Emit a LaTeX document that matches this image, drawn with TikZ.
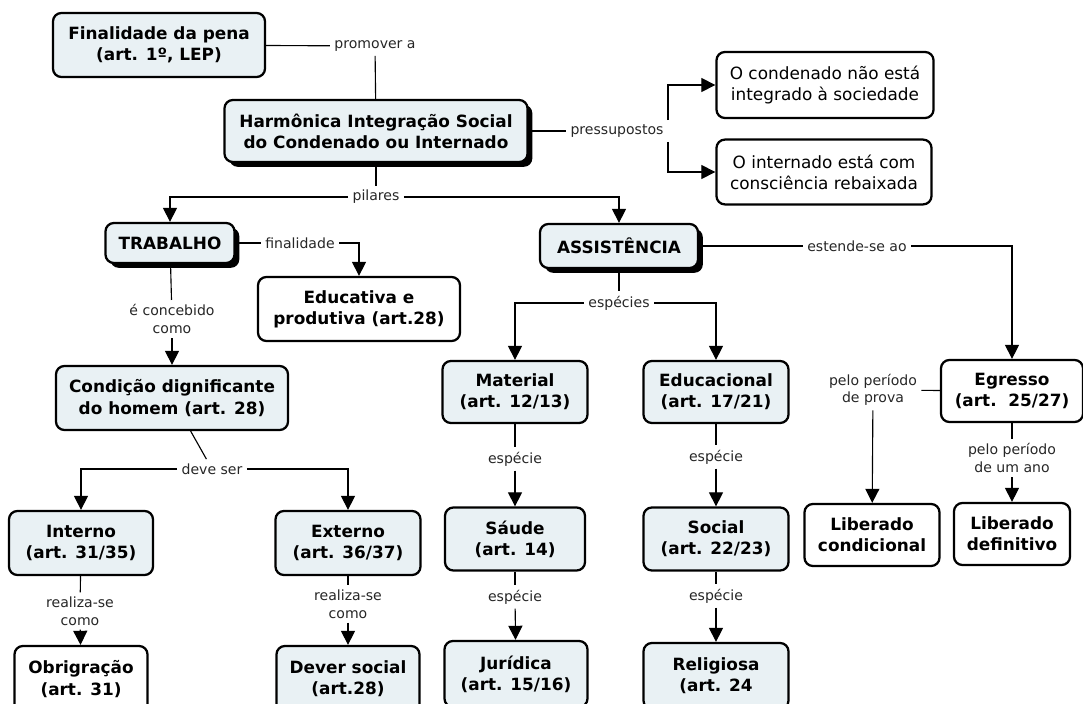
\documentclass[tikz,border=0pt]{standalone}
\usepackage{fontspec}
\setmainfont{DejaVu Sans}
\usepackage{tikz}
\usetikzlibrary{arrows.meta,positioning,shadows}
\definecolor{mapfill}{HTML}{E9F1F4}
\tikzset{
    mapconcept/.style={draw, line width=1.6pt, rounded corners=6pt, fill=mapfill, align=center, font=\fontsize{12}{15}\selectfont\bfseries, minimum height=1.55cm, inner sep=2pt},
    mapplain/.style={mapconcept, fill=white},
    mapshadow/.style={mapconcept, drop shadow={shadow xshift=0.12cm, shadow yshift=-0.12cm, fill=black, opacity=1}},
    mapnote/.style={align=center, font=\fontsize{10}{12.5}\selectfont, text=black!85, inner sep=3pt},
    maplink/.style={line width=0.8pt, black},
    maparrow/.style={maplink, -{Triangle[length=10pt, width=10pt]}}
}
\begin{document}
\begin{tikzpicture}[x=0.025cm, y=-0.025cm]
        \useasboundingbox (0,0) rectangle (1083,703);
        \node[mapconcept, minimum width=5.3cm, minimum height=1.6cm] (fin) at (159,45) {Finalidade da pena\\(art. 1º, LEP)};
        \node[mapshadow, minimum width=7.575cm] (harm) at (376,131) {Harmônica Integração Social\\do Condenado ou Internado};
        \node[mapplain, font=\fontsize{12}{15}\selectfont, minimum width=5.425cm, minimum height=1.65cm] (cond) at (825,85) {O condenado não está\\integrado à sociedade};
        \node[mapplain, font=\fontsize{12}{15}\selectfont, minimum width=5.375cm, minimum height=1.62cm] (intern) at (824,172) {O internado está com\\consciência rebaixada};
        \node[mapshadow, minimum width=3.225cm, minimum height=1.0cm] (trab) at (170,243) {TRABALHO};
        \node[mapshadow, minimum width=3.95cm, minimum height=1.1cm] (assist) at (619,246) {ASSISTÊNCIA};
        \node[mapplain, minimum width=5.05cm, minimum height=1.6cm] (educ) at (359,309) {Educativa e\\produtiva (art.28)};
        \node[mapconcept, minimum width=5.8cm, minimum height=1.6cm] (condig) at (172,398) {Condição dignificante\\do homem (art. 28)};
        \node[mapconcept, minimum width=3.625cm] (material) at (515,392) {Material\\(art. 12/13)};
        \node[mapconcept, minimum width=3.625cm] (educa) at (716,392) {Educacional\\(art. 17/21)};
        \node[mapplain, minimum width=3.55cm] (egresso) at (1012,391) {Egresso\\(art.\ \ 25/27)};
        \node[mapconcept, minimum width=3.6cm, minimum height=1.6cm] (interno) at (81,543) {Interno\\(art. 31/35)};
        \node[mapconcept, minimum width=3.625cm, minimum height=1.6cm] (externo) at (348,543) {Externo\\(art. 36/37)};
        \node[mapconcept, minimum width=3.5cm, minimum height=1.575cm] (saude) at (515,539) {Sáude\\(art. 14)};
        \node[mapconcept, minimum width=3.625cm, minimum height=1.575cm] (social) at (716,539) {Social\\(art. 22/23)};
        \node[mapplain, minimum width=3.375cm] (libcond) at (872,535) {Liberado\\condicional};
        \node[mapplain, minimum width=2.9cm] (libdef) at (1012,534) {Liberado\\definitivo};
        \node[mapplain, minimum width=3.325cm, minimum height=1.65cm] (obrig) at (81,679) {Obrigração\\(art. 31)};
        \node[mapconcept, minimum width=3.575cm, minimum height=1.65cm] (dever) at (348,679) {Dever social\\(art.28)};
        \node[mapconcept, minimum width=3.575cm, minimum height=1.65cm] (jur) at (516,674) {Jurídica\\(art. 15/16)};
        \node[mapconcept, minimum width=3.625cm, minimum height=1.65cm] (relig) at (716,676) {Religiosa\\(art. 24};
        \node[mapnote] (prom) at (375,46) {promover a};
        \node[mapnote] (pres) at (617,131) {pressupostos};
        \node[mapnote] (pil) at (376,197) {pilares};
        \node[mapnote] (final) at (300,243) {finalidade};
        \node[mapnote] (conc) at (172,319) {é concebido\\como};
        \node[mapnote] (deve) at (212,469) {deve ser};
        \node[mapnote] (real1) at (80,611) {realiza-se\\como};
        \node[mapnote] (real2) at (348,604) {realiza-se\\como};
        \node[mapnote] (esps) at (619,303) {espécies};
        \node[mapnote] (est) at (857,246) {estende-se ao};
        \node[mapnote] (esp1) at (515,459) {espécie};
        \node[mapnote] (esp2) at (515,597) {espécie};
        \node[mapnote] (esp3) at (716,457) {espécie};
        \node[mapnote] (esp4) at (716,596) {espécie};
        \node[mapnote] (prova) at (873,390) {pelo período\\de prova};
        \node[mapnote] (ano) at (1012,458) {pelo período\\de um ano};
        \draw[maplink] (fin) -- (prom);
        \draw[maplink] (prom) -- (harm);
        \draw[maplink] (harm) -- (pres);
        \draw[maparrow] (pres.north east) |- (cond);
        \draw[maparrow] (pres.south east) |- (intern);
        \draw[maplink] (harm) -- (pil);
        \draw[maparrow] (pil) -| (trab);
        \draw[maparrow] (pil) -| (assist);
        \draw[maplink] (trab) -- (final);
        \draw[maparrow] (final) -| (educ);
        \draw[maplink] (trab) -- (conc);
        \draw[maparrow] (conc) -- (condig);
        \draw[maplink] (condig) -- (deve);
        \draw[maparrow] (deve) -| (interno);
        \draw[maparrow] (deve) -| (externo);
        \draw[maplink] (interno) -- (real1);
        \draw[maparrow] (real1) -- (obrig);
        \draw[maplink] (externo) -- (real2);
        \draw[maparrow] (real2) -- (dever);
        \draw[maplink] (assist) -- (esps);
        \draw[maparrow] (esps) -| (material);
        \draw[maparrow] (esps) -| (educa);
        \draw[maplink] (assist) -- (est);
        \draw[maparrow] (est) -| (egresso);
        \draw[maplink] (material) -- (esp1);
        \draw[maparrow] (esp1) -- (saude);
        \draw[maplink] (saude) -- (esp2);
        \draw[maparrow] (esp2) -- (jur);
        \draw[maplink] (educa) -- (esp3);
        \draw[maparrow] (esp3) -- (social);
        \draw[maplink] (social) -- (esp4);
        \draw[maparrow] (esp4) -- (relig);
        \draw[maplink] (egresso) -- (prova);
        \draw[maparrow] (prova) -- (libcond);
        \draw[maplink] (egresso) -- (ano);
        \draw[maparrow] (ano) -- (libdef);
\end{tikzpicture}
\end{document}
